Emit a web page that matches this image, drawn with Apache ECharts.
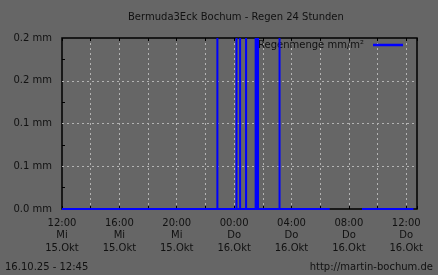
<!DOCTYPE html>
<html>
<head>
<meta charset="utf-8">
<script src="https://cdn.jsdelivr.net/npm/echarts@6/dist/echarts.min.js"></script>
<style>
html,body{margin:0;padding:0;background:#666666;}
#chart{width:438px;height:275px;}
</style>
</head>
<body>
<div id="chart"></div>
<script>
// ---- data ----
const titleText = 'Bermuda3Eck Bochum - Regen 24 Stunden';
const seriesName = 'Regenmenge mm/m²';
const footerLeft = '16.10.25 - 12:45';
const footerRight = 'http://martin-bochum.de';

const axisStart = '15.10 12:00';
const axisEnd = '16.10 12:45';

const xTickTimes = ['12:00', '16:00', '20:00', '00:00', '04:00', '08:00', '12:00'];
const xTickDays  = ['Mi', 'Mi', 'Mi', 'Do', 'Do', 'Do', 'Do'];
const xTickDates = ['15.Okt', '15.Okt', '15.Okt', '16.Okt', '16.Okt', '16.Okt', '16.Okt'];

const yTickLabels = ['0.0 mm', '0.1 mm', '0.1 mm', '0.2 mm', '0.2 mm'];

// rain events (time, mm)
const rainTimes  = ['15.10 22:50', '16.10 00:10', '16.10 00:25', '16.10 00:50', '16.10 01:30', '16.10 01:35', '16.10 01:40', '16.10 03:10'];
const rainValues = [0.2, 0.2, 0.2, 0.2, 0.2, 0.2, 0.2, 0.2];

// periods with recorded data (value 0 outside the events)
const dataStarts = ['15.10 12:00', '16.10 08:55'];
const dataEnds   = ['16.10 06:40', '16.10 12:30'];

// ---- helpers ----
function toHours(s) {
  const [d, t] = s.split(' ');
  const day = parseInt(d.split('.')[0], 10);
  const [hh, mm] = t.split(':').map(Number);
  const [d0, t0] = axisStart.split(' ');
  const day0 = parseInt(d0.split('.')[0], 10);
  const [h0, m0] = t0.split(':').map(Number);
  return (day - day0) * 24 + (hh - h0) + (mm - m0) / 60;
}

const barData = rainTimes.map((t, i) => [toHours(t), rainValues[i]]);
const lineData = [];
dataStarts.forEach((s, i) => {
  lineData.push([toHours(s), 0]);
  lineData.push([toHours(dataEnds[i]), 0]);
  if (i < dataStarts.length - 1) lineData.push([toHours(dataEnds[i]), '-']);
});

const FONT = 'DejaVu Sans';
const TXT = '#111111';
const GRIDC = '#b4b4b4';

const chart = echarts.init(document.getElementById('chart'), null, {renderer: 'canvas'});
chart.setOption({
  backgroundColor: '#666666',
  animation: false,
  textStyle: {fontFamily: FONT},
  title: [
    {text: titleText, left: 128, top: 12,
     textStyle: {fontFamily: FONT, fontSize: 10, fontWeight: 'normal', color: TXT}},
    {text: footerLeft, left: 5, top: 262,
     textStyle: {fontFamily: FONT, fontSize: 10, fontWeight: 'normal', color: TXT}},
    {text: footerRight, right: 5, top: 262,
     textStyle: {fontFamily: FONT, fontSize: 10, fontWeight: 'normal', color: TXT}}
  ].map(t => Object.assign({padding: 0}, t)),
  legend: {
    data: [{name: seriesName, icon: 'rect'}],
    right: 35, top: 40,
    align: 'right',
    itemWidth: 30, itemHeight: 2.5,
    padding: 0,
    itemStyle: {color: '#0000ff'},
    textStyle: {fontFamily: FONT, fontSize: 10, color: TXT, padding: [0, 4, 0, 0]}
  },
  grid: {
    left: 62, right: 21, top: 38, bottom: 66,
    show: true, borderColor: '#000', borderWidth: 1.5, backgroundColor: 'transparent'
  },
  xAxis: [{
    type: 'value',
    min: 0, max: toHours(axisEnd), interval: 2,
    axisLine: {show: false},
    axisTick: {show: true, inside: true, length: 3, lineStyle: {color: '#000', width: 1}},
    splitLine: {show: true, showMinLine: false, showMaxLine: false,
                lineStyle: {color: GRIDC, type: [2, 3], width: 1}},
    axisLabel: {
      show: true, margin: 8,
      fontFamily: FONT, fontSize: 10, color: TXT, lineHeight: 12.5,
      showMinLabel: true, showMaxLabel: true,
      formatter: function (v) {
        if (Math.abs(v % 4) > 1e-9) return '';
        const i = Math.round(v / 4);
        if (i < 0 || i >= xTickTimes.length) return '';
        return xTickTimes[i] + '\n' + xTickDays[i] + '\n' + xTickDates[i];
      }
    }
  }, {
    type: 'value', position: 'top',
    min: 0, max: toHours(axisEnd), interval: 2,
    axisLine: {show: false},
    axisTick: {show: true, inside: true, length: 3, lineStyle: {color: '#000', width: 1}},
    splitLine: {show: false},
    axisLabel: {show: false}
  }],
  yAxis: {
    type: 'value',
    min: 0, max: 0.2, interval: 0.05,
    axisLine: {show: false},
    axisTick: {show: false, inside: true},
    minorTick: {show: true, splitNumber: 2, length: 3, lineStyle: {color: '#000', width: 1}},
    splitLine: {show: true, showMinLine: false, showMaxLine: false,
                lineStyle: {color: GRIDC, type: [2, 3], width: 1}},
    axisLabel: {
      margin: 10, fontFamily: FONT, fontSize: 10, color: TXT,
      formatter: function (v) {
        const i = Math.round(v / 0.05);
        return yTickLabels[i] !== undefined ? yTickLabels[i] : '';
      }
    }
  },
  series: [{
    name: seriesName,
    type: 'line',
    data: lineData,
    symbol: 'none',
    connectNulls: false,
    clip: false,
    lineStyle: {color: '#0000ff', width: 2},
    itemStyle: {color: '#0000ff'},
    z: 3
  }, {
    name: seriesName,
    type: 'bar',
    data: barData,
    barWidth: 2,
    barGap: '-100%',
    itemStyle: {color: '#0000ff'},
    z: 4
  }]
});
</script>
</body>
</html>
